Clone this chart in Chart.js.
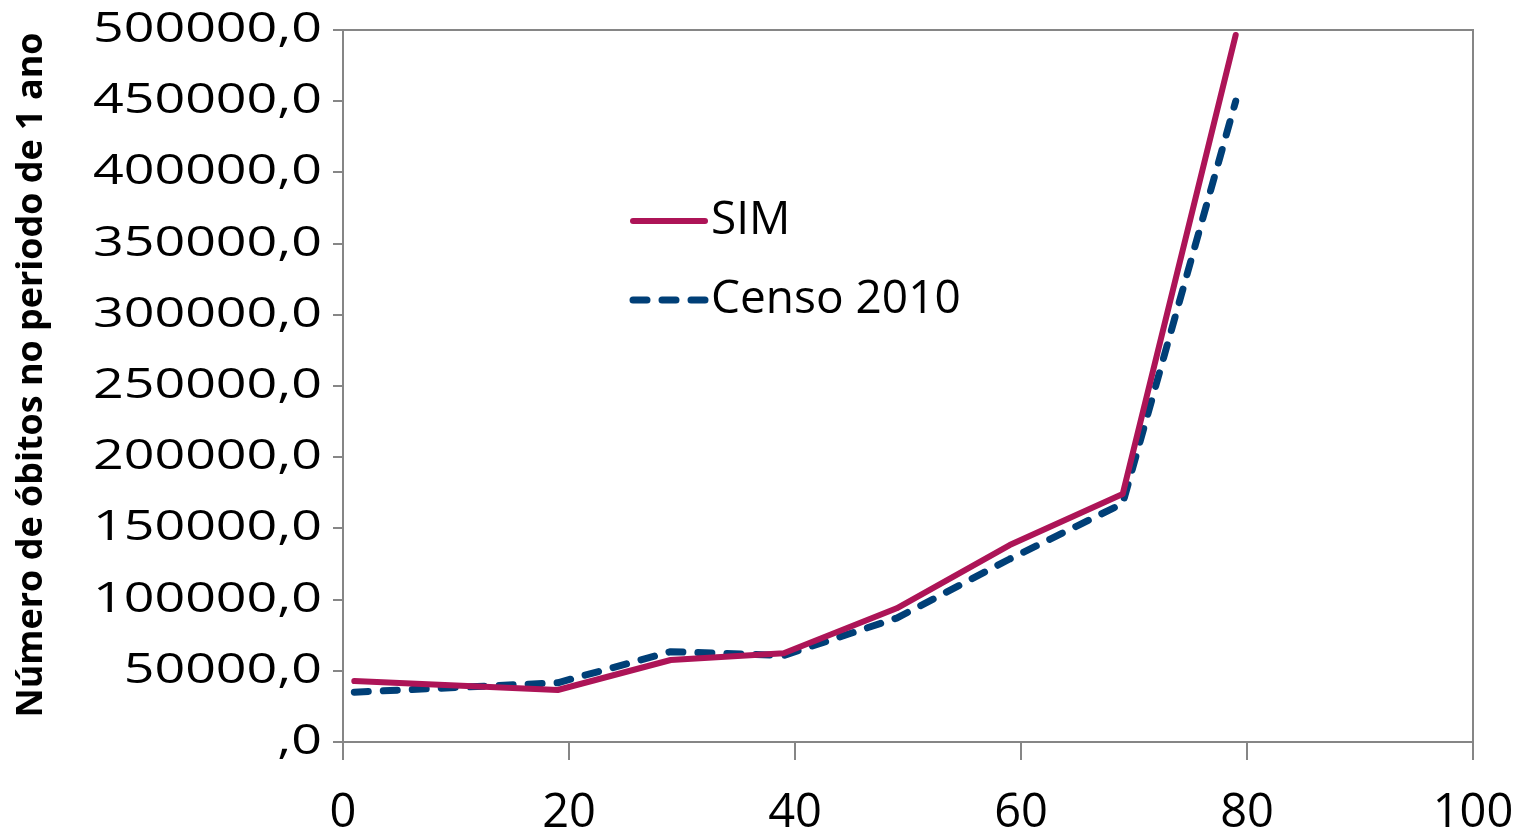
<!DOCTYPE html>
<html>
<head>
<meta charset="utf-8">
<script src="https://cdn.jsdelivr.net/npm/chart.js@4"></script>
<style>
  html, body { margin: 0; padding: 0; background: #fff; }
  #wrap { width: 1521px; height: 832px; }
</style>
</head>
<body>
<div id="wrap"><canvas id="obitosChart"></canvas></div>
<script>
// idade (anos) e número de óbitos no período de 1 ano
const ages = [1, 19, 29, 39, 49, 59, 69, 79];
const simValues = [42800, 36500, 57600, 62300, 93900, 138300, 174200, 496500];
const censoValues = [35000, 41600, 63400, 60800, 87000, 128500, 167500, 450000];
const xTicks = [0, 20, 40, 60, 80, 100];
const seriesNames = ["SIM", "Censo 2010"];
const yTitle = "Número de óbitos no periodo de 1 ano";

const SIM_COLOR = "#ad1457";
const CENSO_COLOR = "#003f77";
const AXIS_COLOR = "#868686";

function fmt(v) {
  return v === 0 ? ",0" : v.toFixed(1).replace(".", ",");
}

// moldura da área do gráfico, rótulos e título do eixo y, legenda interna
const extras = {
  id: "extras",
  beforeDatasetsDraw(chart) {
    const { ctx, chartArea: a } = chart;
    ctx.save();
    ctx.strokeStyle = AXIS_COLOR;
    ctx.lineWidth = 2;
    ctx.beginPath();
    ctx.moveTo(a.left, a.top);
    ctx.lineTo(a.right, a.top);
    ctx.lineTo(a.right, a.bottom);
    ctx.stroke();
    ctx.restore();
  },
  afterDraw(chart) {
    const { ctx, chartArea: a, scales: { y } } = chart;
    ctx.save();
    ctx.fillStyle = "#000";
    ctx.font = "42px 'Open Sans'";
    ctx.textAlign = "right";
    ctx.textBaseline = "middle";
    y.ticks.forEach(t => {
      ctx.save();
      ctx.translate(a.left - 21, y.getPixelForValue(t.value));
      ctx.scale(1.28, 1);
      ctx.fillText(fmt(t.value), 0, 0);
      ctx.restore();
    });

    // título do eixo y, girado
    ctx.save();
    ctx.font = "bold 35px 'Open Sans'";
    ctx.textAlign = "center";
    ctx.textBaseline = "alphabetic";
    const w = ctx.measureText(yTitle).width;
    ctx.translate(42, a.top + 345);
    ctx.rotate(-Math.PI / 2);
    ctx.scale(685 / w, 1);
    ctx.fillText(yTitle, 0, 0);
    ctx.restore();

    // legenda
    const lx = a.left + 290, ly = [a.top + 191, a.top + 270];
    ctx.lineCap = "round";
    ctx.lineWidth = 6;
    ctx.strokeStyle = SIM_COLOR;
    ctx.beginPath(); ctx.moveTo(lx, ly[0]); ctx.lineTo(lx + 72, ly[0]); ctx.stroke();
    ctx.strokeStyle = CENSO_COLOR;
    ctx.lineWidth = 7;
    ctx.setLineDash([14, 15]);
    ctx.beginPath(); ctx.moveTo(lx, ly[1]); ctx.lineTo(lx + 72, ly[1]); ctx.stroke();
    ctx.setLineDash([]);
    ctx.font = "46px 'Open Sans'";
    ctx.textAlign = "left";
    ctx.fillText(seriesNames[0], lx + 78, ly[0]);
    ctx.fillText(seriesNames[1], lx + 78, ly[1]);
    ctx.restore();
  }
};

new Chart(document.getElementById("obitosChart"), {
  type: "line",
  data: {
    datasets: [
      {
        label: seriesNames[0],
        data: ages.map((a, i) => ({ x: a, y: simValues[i] })),
        borderColor: SIM_COLOR,
        borderWidth: 6,
        borderCapStyle: "round",
        borderJoinStyle: "round",
        pointRadius: 0,
        tension: 0
      },
      {
        label: seriesNames[1],
        data: ages.map((a, i) => ({ x: a, y: censoValues[i] })),
        borderColor: CENSO_COLOR,
        borderWidth: 7,
        borderDash: [14, 15],
        borderCapStyle: "round",
        borderJoinStyle: "round",
        pointRadius: 0,
        tension: 0
      }
    ]
  },
  options: {
    responsive: true,
    maintainAspectRatio: false,
    animation: false,
    layout: { padding: { top: 30, right: 48, left: 0, bottom: 0 } },
    plugins: { legend: { display: false }, tooltip: { enabled: false } },
    scales: {
      x: {
        type: "linear",
        min: 0,
        max: 100,
        afterBuildTicks(scale) { scale.ticks = xTicks.map(v => ({ value: v })); },
        afterFit(scale) {
          scale.height = 90;
          scale.paddingLeft = 0;
          scale.paddingRight = 0;
        },
        grid: { drawOnChartArea: false, drawTicks: true, tickLength: 18, color: AXIS_COLOR, lineWidth: 2 },
        border: { color: AXIS_COLOR, width: 2 },
        ticks: { color: "#000", font: { family: "'Open Sans'", size: 47 }, padding: 25, maxRotation: 0 }
      },
      y: {
        min: 0,
        max: 500000,
        afterFit(scale) { scale.width = 343; },
        grid: { drawOnChartArea: false, drawTicks: true, tickLength: 10, color: AXIS_COLOR, lineWidth: 2 },
        border: { color: AXIS_COLOR, width: 2 },
        ticks: { stepSize: 50000, display: false }
      }
    }
  },
  plugins: [extras]
});
</script>
</body>
</html>
